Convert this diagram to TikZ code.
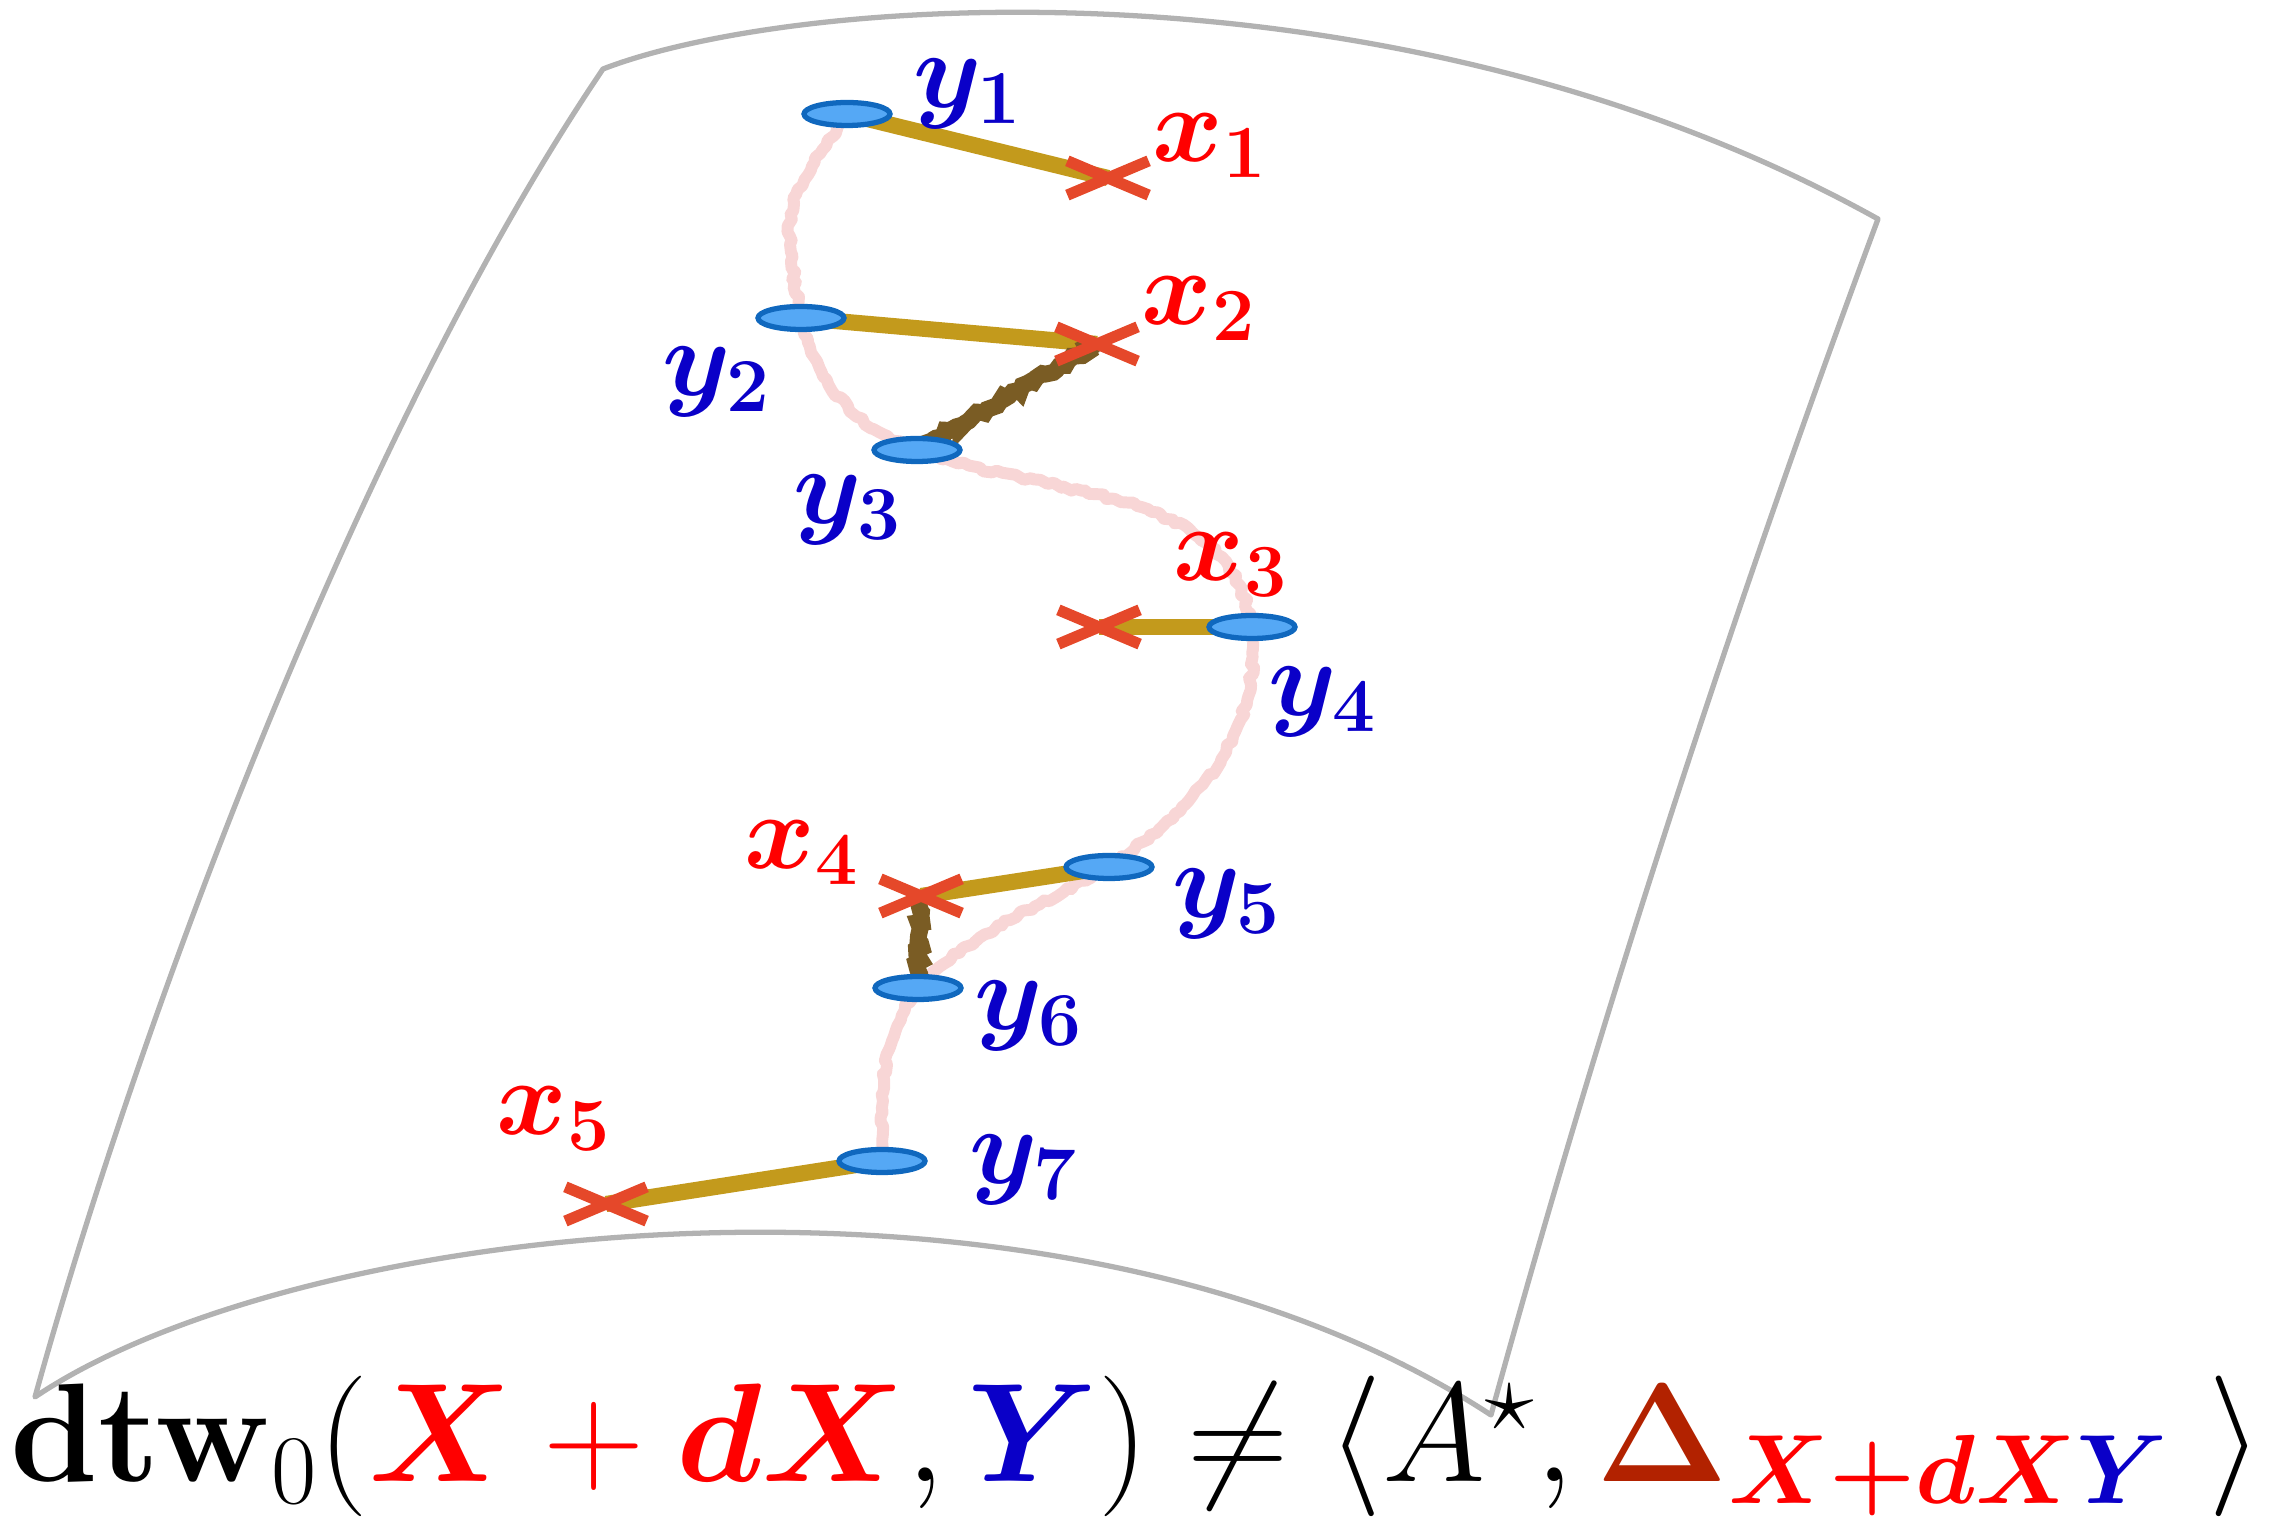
\RequirePackage{fix-cm}
\documentclass[tikz,border=0pt]{standalone}
\usepackage{amsmath,amssymb}
\usepackage{bm}
\usepackage{xcolor}
\usetikzlibrary{positioning,shapes.geometric,shapes.misc,decorations.pathmorphing,backgrounds}
\definecolor{sheetgray}{RGB}{178,178,178}
\definecolor{yfill}{RGB}{85,168,245}
\definecolor{ydraw}{RGB}{16,104,190}
\definecolor{xcross}{RGB}{229,72,42}
\definecolor{matchgold}{RGB}{195,154,28}
\definecolor{warpbrown}{RGB}{122,92,36}
\definecolor{chalkpink}{RGB}{248,214,214}
\definecolor{yblue}{RGB}{10,0,200}
\definecolor{deltared}{RGB}{178,34,0}

\begin{document}
\begin{tikzpicture}[
  ynode/.style={ellipse, draw=ydraw, fill=yfill, line width=1.5pt, inner sep=0pt,
               minimum width=8.6mm, minimum height=2.3mm},
  xnode/.style={cross out, draw=xcross, line width=3.2pt, inner sep=0pt,
               minimum width=7.0mm, minimum height=2.3mm},
  ylab/.style={text=yblue, inner sep=0pt, font=\fontsize{31}{37}\selectfont},
  xlab/.style={text=red, inner sep=0pt, font=\fontsize{30.5}{36}\selectfont},
  matchbar/.style={matchgold, line width=4.6pt},
  warpbar/.style={warpbrown, line width=4.8pt, decorate,
               decoration={random steps, segment length=1.2pt, amplitude=0.8pt}},
  chalkline/.style={chalkpink, line width=3.4pt, line join=round, decorate,
               decoration={random steps, segment length=1.5pt, amplitude=0.6pt}}
]
\useasboundingbox (0,0) rectangle (22.85,15.18);
\pgfmathsetseed{7}

\node[ynode] (y1) at (8.47,14.04) {};
\node[ynode] (y2) at (8.01,12.00) {};
\node[ynode] (y3) at (9.17,10.68) {};
\node[ynode] (y4) at (12.52,8.91) {};
\node[ynode] (y5) at (11.09,6.51) {};
\node[ynode] (y6) at (9.18,5.30) {};
\node[ynode] (y7) at (8.82,3.57) {};
\node[xnode] (x1) at (11.08,13.40) {};
\node[xnode] (x2) at (10.97,11.74) {};
\node[xnode] (x3) at (10.99,8.91) {};
\node[xnode] (x4) at (9.21,6.22) {};
\node[xnode] (x5) at (6.06,3.14) {};

\node[ylab] (ly1) at ([shift={(1.21,0.20)}]y1) {$\bm{y_1}$};
\node[ylab] (ly2) at ([shift={(-0.84,-0.64)}]y2) {$\bm{y_2}$};
\node[ylab] (ly3) at ([shift={(-0.69,-0.60)}]y3) {$\bm{y_3}$};
\node[ylab] (ly4) at ([shift={(0.71,-0.75)}]y4) {$\bm{y_4}$};
\node[ylab] (ly5) at ([shift={(1.18,-0.37)}]y5) {$\bm{y_5}$};
\node[ylab] (ly6) at ([shift={(1.11,-0.28)}]y6) {$\bm{y_6}$};
\node[ylab] (ly7) at ([shift={(1.42,-0.09)}]y7) {$\bm{y_7}$};
\node[xlab] (lx1) at ([shift={(1.02,0.32)}]x1) {$\bm{x_1}$};
\node[xlab] (lx2) at ([shift={(1.02,0.35)}]x2) {$\bm{x_2}$};
\node[xlab] (lx3) at ([shift={(1.32,0.62)}]x3) {$\bm{x_3}$};
\node[xlab] (lx4) at ([shift={(-1.19,0.43)}]x4) {$\bm{x_4}$};
\node[xlab] (lx5) at ([shift={(-0.52,0.85)}]x5) {$\bm{x_5}$};

\node[anchor=base, inner sep=0pt, font=\fontsize{40}{48}\selectfont] (dtw) at (11.37,0.36)
  {$\mathbf{dtw}_0(\textcolor{red}{\bm{X}+\bm{dX}},\textcolor{yblue}{\bm{Y}})\neq
   \langle A^\star,\textcolor{deltared}{\bm{\Delta}}_{\textcolor{red}{\bm{X+dX}}\textcolor{yblue}{\bm{Y}}}\;\rangle$};

\begin{scope}[on background layer]
\draw[sheetgray, line width=1.5pt, line join=round]
  (6.03,14.49) .. controls (8.0,15.25) and (14.0,15.65) .. (18.78,12.99)
  .. controls (17.3,9.0) and (16.0,5.0) .. (14.91,1.03)
  .. controls (10.6,3.85) and (3.0,3.0) .. (0.35,1.21)
  .. controls (1.4,5.0) and (3.6,10.9) .. cycle;
\draw[chalkline] (y1.center) to[out=235, in=100, looseness=1.4] (y2.center)
  to[out=-75, in=160] (y3.center) to[out=-20, in=100] (y4.center)
  to[out=-85, in=35] (y5.center) to[out=210, in=45] (y6.center)
  to[out=235, in=90] (y7.center);
\draw[matchbar] (y1.center) -- (x1.center);
\draw[matchbar] (y2.center) -- (x2.center);
\draw[matchbar] (x3.center) -- (y4.center);
\draw[matchbar] (x4.center) -- (y5.center);
\draw[matchbar] (x5.center) -- (y7.center);
\draw[warpbar] (x2.center) -- (y3.center);
\draw[warpbar] (x4.center) -- (y6.center);
\end{scope}
\end{tikzpicture}
\end{document}
